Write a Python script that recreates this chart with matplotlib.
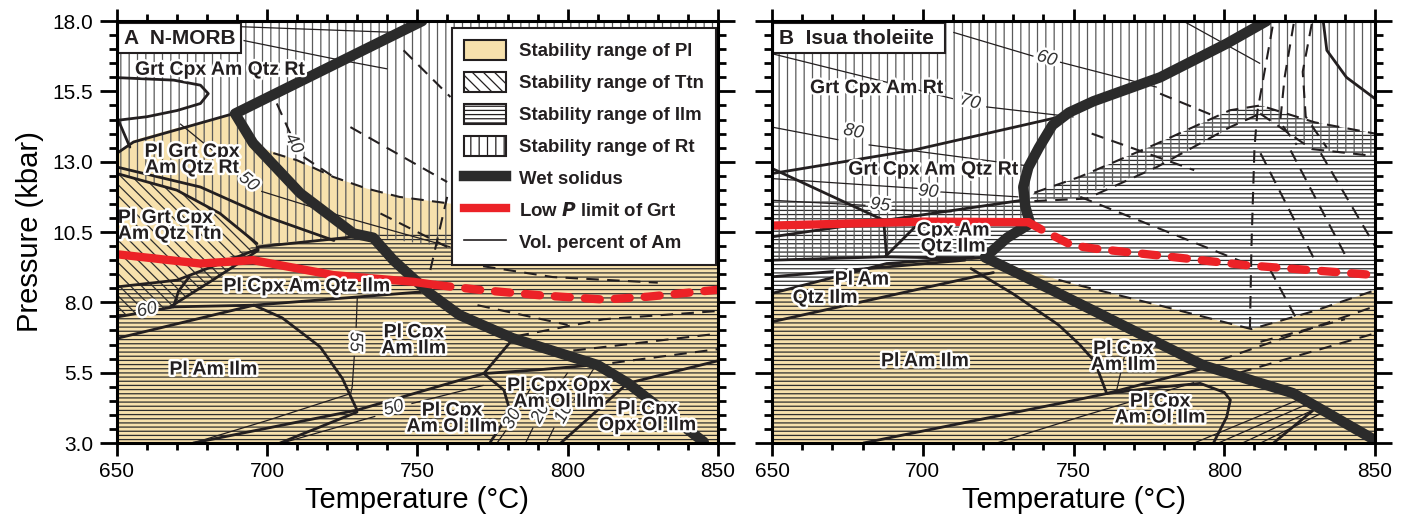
import matplotlib
matplotlib.use('Agg')
import matplotlib.pyplot as plt
from matplotlib.patches import Patch
from matplotlib.lines import Line2D
from matplotlib.ticker import MultipleLocator
import matplotlib.patheffects as pe

plt.rcParams['font.family'] = ['Liberation Sans', 'DejaVu Sans']
plt.rcParams['hatch.linewidth'] = 0.9

TAN = '#f7e1ad'
RED = '#ec2227'
INK = '#231f20'
HATCH_DARK = '#2e2e2e'
HATCH_GREY = '#5a5a5a'

# ---------------- axes ----------------
t_limits = (650, 850)
p_limits = (3.0, 18.0)
x_ticks = [650, 700, 750, 800, 850]
y_ticks = [3.0, 5.5, 8.0, 10.5, 13.0, 15.5, 18.0]
y_tick_labels = ['3.0', '5.5', '8.0', '10.5', '13.0', '15.5', '18.0']

# ---------------- Panel A : N-MORB ----------------
a_tan = [(650, 3.0), (650, 13.3), (655.5, 13.76), (670, 14.2), (689.3, 14.71), (698, 13.5),
         (710, 13.05), (722, 12.46), (733, 12.05), (744, 11.75), (761, 11.51), (790, 11.3),
         (820, 11.05), (850, 10.75), (850, 3.0)]
a_rt = [(650, 18), (850, 18), (850, 9.9), (761, 9.95), (737, 10.3), (728.8, 10.33),
        (696.6, 10.05), (684.3, 11.16), (669.9, 11.99), (650, 12.58)]
a_ttn = [(650, 12.58), (669.9, 11.99), (684.3, 11.16), (696.6, 10.05), (697, 9.85),
         (682, 8.8), (667.7, 7.84), (650, 7.5)]
a_ilm = [(650, 3), (850, 3), (850, 10.4), (761, 10.45), (737, 10.45), (728.8, 10.33),
         (696.6, 10.05), (670, 8.79), (650, 8.55)]

a_solidus = [(751.6, 18.0), (689.3, 14.71), (695.3, 13.66), (711, 11.88), (728.7, 10.45),
             (735.3, 10.3), (742, 9.5), (750.4, 8.68), (754, 8.33), (764, 7.55),
             (781.6, 6.73), (810, 5.77), (820, 5.13), (845.3, 3.04)]
a_grt_solid = [(650, 9.71), (677.7, 9.38), (695.3, 9.5), (722, 8.97), (748.7, 8.73), (756, 8.62)]
a_grt_dash = [(756, 8.62), (772, 8.43), (791, 8.25), (812, 8.1), (826.6, 8.2), (851, 8.46)]

a_thick = [
    [(650, 14.47), (660, 14.6), (670, 14.82), (677.8, 15.07), (680.4, 15.42), (677.8, 15.72),
     (668.9, 15.9), (650, 15.99)],
    [(650, 13.3), (655.5, 13.7), (688.8, 14.71)],
    [(650, 14.59), (654.3, 13.52)],
    [(650, 12.58), (669.9, 11.99), (684.3, 11.16), (696.6, 10.09)],
    [(650, 12.81), (677.8, 12.1), (700, 11.04), (722.2, 10.2)],
    [(696.6, 9.97), (728.8, 10.33), (736, 10.3)],
    [(650, 8.55), (670, 8.79), (697, 9.9)],
    [(667.7, 7.84), (682, 8.8), (697, 9.85)],
    [(668.8, 7.84), (670.5, 8.4), (674, 8.9)],
    [(650, 7.48), (668.9, 7.84), (695.6, 7.9), (751, 8.37)],
    [(650, 6.72), (695.6, 7.9)],
    [(695.6, 7.9), (705, 7.45), (717.6, 6.42), (725, 5.3), (729.9, 4.17)],
    [(675.4, 3.0), (729.9, 4.17), (764.3, 5.24), (772.1, 5.47)],
    [(704.3, 3.0), (729.9, 4.1)],
    [(772.1, 5.47), (781, 6.6)],
    [(772.1, 5.47), (790, 5.6), (806, 5.75)],
    [(772.1, 5.47), (778.8, 4.88), (780.4, 4.29), (777.7, 3.58), (774.3, 3.04)],
    [(797.7, 3.0), (819.9, 5.12), (851, 5.95)],
]
a_thin = [
    [(691, 17.8), (742, 17.6)],
    [(692.1, 17.31), (722.1, 16.66), (740, 16.3)],
    [(671, 14.35), (691, 12.6)], [(698, 11.95), (725.4, 11.04), (761, 9.97)],
    [(730, 8.2), (729.6, 7.1)], [(729, 6.1), (728.3, 5.0), (727.8, 4.76), (700, 3.8), (675.4, 3.0)],
    [(705, 3.0), (736, 3.95)], [(748, 4.4), (772, 5.05)],
    [(776.5, 3.0), (779.5, 3.45)], [(784, 4.25), (790, 5.4)],
    [(786, 3.0), (788.5, 3.55)], [(793.5, 4.5), (800, 5.5)],
    [(793, 3.0), (795.5, 3.55)], [(802, 4.5), (809, 5.7)],
]
a_dashed = [
    [(695.4, 13.52), (710, 13.05), (722, 12.46), (733, 12.05), (744, 11.75), (761, 11.51)],
    [(745.4, 16.96), (761, 15.3)],
    [(703.2, 15.07), (707.7, 14.0)], [(712.1, 13.17), (722.1, 12.46)],
    [(727.7, 14.23), (759.9, 12.28)],
    [(737.7, 11.16), (759.9, 9.97)],
    [(759.9, 11.75), (754.3, 9.15)],
    [(783, 6.8), (812, 7.4), (851, 7.7)],
    [(795, 6.2), (851, 6.9)],
    [(808, 5.75), (851, 6.35)],
    [(770, 7.9), (800, 7.2)],
    [(765, 9.4), (795, 8.9), (830, 8.7)],
]
a_labels = [
    ('Grt Cpx Am Qtz Rt', 684.3, 16.25, 'center'),
    ('Pl Grt Cpx\nAm Qtz Rt', 675.0, 13.05, 'center'),
    ('Pl Grt Cpx\nAm Qtz Ttn', 650.3, 10.7, 'left'),
    ('Pl Cpx Am Qtz Ilm', 713.2, 8.55, 'center'),
    ('Pl Am Ilm', 682.1, 5.59, 'center'),
    ('Pl Cpx\nAm Ilm', 748.8, 6.63, 'center'),
    ('Pl Cpx\nAm Ol Ilm', 761.5, 3.85, 'center'),
    ('Pl Cpx Opx\nAm Ol Ilm', 797.1, 4.73, 'center'),
    ('Pl Cpx\nOpx Ol Ilm', 826.6, 3.9, 'center'),
]
a_iso_labels = [('40', 708.8, 13.64, -62), ('50', 693.8, 12.28, -40), ('60', 660.0, 7.72, 12),
                ('55', 729.3, 6.6, -90), ('50', 742.1, 4.23, 15), ('30', 781.6, 3.85, 62),
                ('20', 791.0, 4.05, 62), ('10', 798.8, 4.05, 62)]

# ---------------- Panel B : Isua tholeiite ----------------
b_tan = [(650, 3.0), (650, 8.32), (688, 9.38), (716.8, 9.6), (722, 9.55), (745, 8.8),
         (752, 8.6), (780, 7.85), (809, 7.05), (830, 7.7), (850, 8.43), (850, 3.0)]
b_rt = [(650, 18), (850, 18), (850, 13.2), (829, 13.45), (812, 14.7), (802, 14.2), (778, 12.8),
        (752, 11.75), (737, 11.6), (735, 10.85), (697.4, 10.68), (687.5, 9.62), (650, 9.5)]
b_ilm = [(650, 3), (850, 3), (850, 14.0), (830, 14.4), (812, 15.0), (802, 14.83), (777.6, 13.64),
         (752, 12.46), (737, 11.9), (735, 11.63), (650, 11.63)]

b_solidus = [(814, 18.0), (800.8, 17.2), (778.7, 16.0), (756.6, 15.15), (748.5, 14.75),
             (743, 14.3), (738.5, 13.5), (735, 12.8), (733.3, 12.1), (734, 11.4),
             (735.6, 10.8), (728, 10.3), (720.6, 9.6), (735, 8.85), (752, 7.95),
             (793, 5.76), (822.8, 4.77), (850, 3.1)]
b_grt_solid = [(650, 10.73), (700, 10.87), (735, 10.85)]
b_grt_dash = [(735, 10.85), (740, 10.55), (749.4, 10.03), (757, 9.91), (778, 9.67),
              (807.4, 9.32), (850, 8.97)]

b_thick = [
    [(650, 12.58), (696.4, 13.4), (747.7, 14.65)],
    [(650, 12.76), (687, 10.92), (688, 9.62)],
    [(650, 10.33), (733, 11.63)],
    [(650, 9.5), (687.5, 9.62), (716.2, 9.56), (721, 9.6)],
    [(687.5, 9.62), (697.4, 10.68)],
    [(650, 8.91), (714, 9.5)],
    [(650, 8.32), (688, 9.38), (716.8, 9.6)],
    [(650, 7.31), (723.4, 9.06)],
    [(716, 9.2), (730, 8.3), (745, 7.2), (752, 6.5), (757, 5.9), (761, 4.76)],
    [(680.3, 3.0), (745.5, 4.41), (761, 4.76), (793, 5.65)],
    [(761, 4.76), (780, 5.0), (792, 5.12), (800, 4.8), (802, 4.53), (800.8, 3.93), (796.4, 3.0)],
    [(816.3, 3.0), (831, 4.3)],
    [(832.8, 18.0), (834, 16.96), (840.5, 16.0), (850, 15.24)],
]
b_thin = [
    [(710.1, 17.6), (736.7, 16.75)], [(745.5, 16.54), (777.6, 15.65)],
    [(786.4, 18.0), (811.9, 16.49)],
    [(650, 16.84), (710, 15.24)], [(721, 14.95), (750, 14.59)],
    [(650, 14.23), (672, 13.78)], [(682, 13.6), (735, 12.85)],
    [(650, 12.4), (698.6, 12.05)], [(705.2, 11.93), (731.7, 11.75)],
    [(650, 11.63), (681, 11.45)], [(689.7, 11.28), (709.6, 11.22)],
    [(724.5, 3.0), (752.2, 3.93), (790, 5.15)],
    [(764.3, 4.88), (767.6, 6.42)],
    [(790, 3.0), (826, 4.6)], [(798, 3.0), (829, 4.45)],
    [(806, 3.0), (832, 4.3)], [(812, 3.0), (834, 4.15)],
]
b_dashed = [
    [(737, 11.6), (754.4, 11.69), (777.6, 12.81), (801.9, 14.23), (811.9, 14.71)],
    [(737, 11.9), (752, 12.46), (777.6, 13.64), (801.9, 14.83), (811.9, 15.0), (830, 14.4), (850, 14.0)],
    [(811.9, 14.71), (829, 13.45), (850, 13.2)],
    [(816, 17.8), (811, 14.8), (810, 13.5), (809, 10.0), (808.5, 7.1)],
    [(823, 17.9), (820, 16.0), (818.5, 14.4), (824, 13.6)],
    [(829, 17.9), (826, 16.2), (827, 14.6), (834, 13.5)],
    [(752.2, 11.75), (807.4, 9.38)],
    [(778.7, 15.42), (797.5, 14.59)],
    [(756, 14.0), (790, 12.7)],
    [(812, 13.3), (830, 9.5)],
    [(822, 13.4), (840, 9.7)],
    [(832, 13.3), (850, 10.0)],
    [(815, 9.2), (824, 7.4)],
    [(745, 8.8), (752, 8.6), (780, 7.85), (809, 7.05), (830, 7.7), (850, 8.43)],
    [(798.6, 5.95), (849.4, 7.84)],
    [(805, 5.5), (850, 6.9)],
    [(812, 6.6), (840, 7.4)],
]
b_labels = [
    ('Grt Cpx Am Rt', 684.7, 15.6, 'center'),
    ('Grt Cpx Am Qtz Rt', 703.5, 12.7, 'center'),
    ('Cpx Am\nQtz Ilm', 710.1, 10.25, 'center'),
    ('Pl Am', 679.8, 8.79, 'center'),
    ('Qtz Ilm', 667.6, 8.14, 'center'),
    ('Pl Am Ilm', 700.7, 5.89, 'center'),
    ('Pl Cpx\nAm Ilm', 766.5, 6.04, 'center'),
    ('Pl Cpx\nAm Ol Ilm', 778.7, 4.17, 'center'),
]
b_iso_labels = [('60', 741.1, 16.66, -17), ('70', 715.7, 15.12, -15), ('80', 677.0, 14.06, -12),
                ('90', 701.8, 11.93, -6), ('95', 685.8, 11.45, -8)]

legend_labels = ['Stability range of Pl', 'Stability range of Ttn', 'Stability range of Ilm',
                 'Stability range of Rt', 'Wet solidus', 'Low $\\bfit{P}$ limit of Grt',
                 'Vol. percent of Am']


def xy(pts):
    return [p[0] for p in pts], [p[1] for p in pts]


stroke = [pe.withStroke(linewidth=3.5, foreground='white')]


def hatch_fill(ax, pts, hatch, color, z):
    x, y = xy(pts)
    ax.fill(x, y, facecolor='none', edgecolor=color, hatch=hatch, linewidth=0, zorder=z)


def draw_panel(ax, tan, rt, ttn, ilm, solidus, grt_solid, grt_dash, thick, thin, dashed,
               labels, iso_labels):
    x, y = xy(tan)
    ax.fill(x, y, color=TAN, lw=0, zorder=1)
    if ttn:
        hatch_fill(ax, ttn, '\\\\\\', HATCH_DARK, 2)
    hatch_fill(ax, ilm, '----', HATCH_DARK, 2)
    hatch_fill(ax, rt, '||', HATCH_GREY, 2)
    for seg in thin:
        ax.plot(*xy(seg), color=INK, lw=0.9, zorder=3, solid_capstyle='butt')
    for seg in dashed:
        ax.plot(*xy(seg), color=INK, lw=1.5, zorder=3, linestyle=(0, (6, 4)))
    for seg in thick:
        ax.plot(*xy(seg), color=INK, lw=2.0, zorder=4, solid_capstyle='round',
                solid_joinstyle='round')
    ax.plot(*xy(solidus), color='#2b2b2b', lw=7.5, zorder=6, solid_capstyle='round',
            solid_joinstyle='round')
    ax.plot(*xy(grt_solid), color=RED, lw=6, zorder=7, solid_capstyle='round')
    ax.plot(*xy(grt_dash), color=RED, lw=6, zorder=7, linestyle=(0, (1.8, 1.8)),
            dash_capstyle='round')
    for txt, t, p, ha in labels:
        ax.text(t, p, txt, ha=ha, va='center', fontsize=14, fontweight='bold', color=INK,
                linespacing=0.92, path_effects=stroke, zorder=10, multialignment=ha)
    for txt, t, p, rot in iso_labels:
        ax.text(t, p, txt, ha='center', va='center', fontsize=13, style='italic', color='#333333',
                rotation=rot, path_effects=stroke, zorder=5)

    ax.set_xlim(*t_limits)
    ax.set_ylim(*p_limits)
    ax.set_xticks(x_ticks)
    ax.set_yticks(y_ticks)
    ax.xaxis.set_minor_locator(MultipleLocator(10))
    ax.yaxis.set_minor_locator(MultipleLocator(0.5))
    ax.tick_params(axis='x', which='major', direction='out', length=9, width=2, top=True,
                   labelsize=15, pad=5)
    ax.tick_params(axis='x', which='minor', direction='out', length=5, width=2, top=True)
    ax.tick_params(axis='y', which='major', direction='out', length=12, width=2, right=True,
                   labelsize=15, pad=5)
    ax.tick_params(axis='y', which='minor', direction='out', length=6, width=2, right=True)
    for s in ax.spines.values():
        s.set_linewidth(2.2)
        s.set_zorder(12)
    ax.set_xlabel('Temperature (°C)', fontsize=21, labelpad=3)


fig = plt.figure(figsize=(14.04, 5.19), dpi=100)
axA = fig.add_axes([0.0833, 0.1464, 0.428, 0.813])
axB = fig.add_axes([0.5499, 0.1464, 0.4295, 0.813])

draw_panel(axA, a_tan, a_rt, a_ttn, a_ilm, a_solidus, a_grt_solid, a_grt_dash, a_thick, a_thin,
           a_dashed, a_labels, a_iso_labels)
draw_panel(axB, b_tan, b_rt, None, b_ilm, b_solidus, b_grt_solid, b_grt_dash, b_thick, b_thin,
           b_dashed, b_labels, b_iso_labels)

axA.set_yticklabels(y_tick_labels)
axA.set_ylabel('Pressure (kbar)', fontsize=21, labelpad=6)
axB.set_yticklabels([])

box = dict(boxstyle='square,pad=0.28', fc='white', ec=INK, lw=1.5)
axA.text(0.011, 0.982, 'A  N-MORB', transform=axA.transAxes, ha='left', va='top', fontsize=15,
         fontweight='bold', color=INK, bbox=box, zorder=11)
axB.text(0.011, 0.982, 'B  Isua tholeiite ', transform=axB.transAxes, ha='left', va='top',
         fontsize=15, fontweight='bold', color=INK, bbox=box, zorder=11)

handles = [
    Patch(facecolor=TAN, edgecolor=INK, lw=1.5),
    Patch(facecolor='white', edgecolor=INK, hatch='\\\\\\', lw=1.5),
    Patch(facecolor='white', edgecolor=INK, hatch='----', lw=1.5),
    Patch(facecolor='white', edgecolor=INK, hatch='||', lw=1.5),
    Line2D([], [], color='#2b2b2b', lw=7.5),
    Line2D([], [], color=RED, lw=6),
    Line2D([], [], color=INK, lw=1.2),
]
leg = axA.legend(handles, legend_labels, loc='upper left', bbox_to_anchor=(0.557, 0.983),
                 prop={'weight': 'bold', 'size': 13.4}, frameon=True, fancybox=False,
                 framealpha=1, edgecolor=INK, handlelength=2.25, handleheight=1.25,
                 handletextpad=0.7, labelspacing=0.64, borderpad=0.65, borderaxespad=0)
leg.get_frame().set_linewidth(1.5)
leg.set_zorder(11)
for t in leg.get_texts():
    t.set_color(INK)

fig.savefig('out.png', dpi=100)
